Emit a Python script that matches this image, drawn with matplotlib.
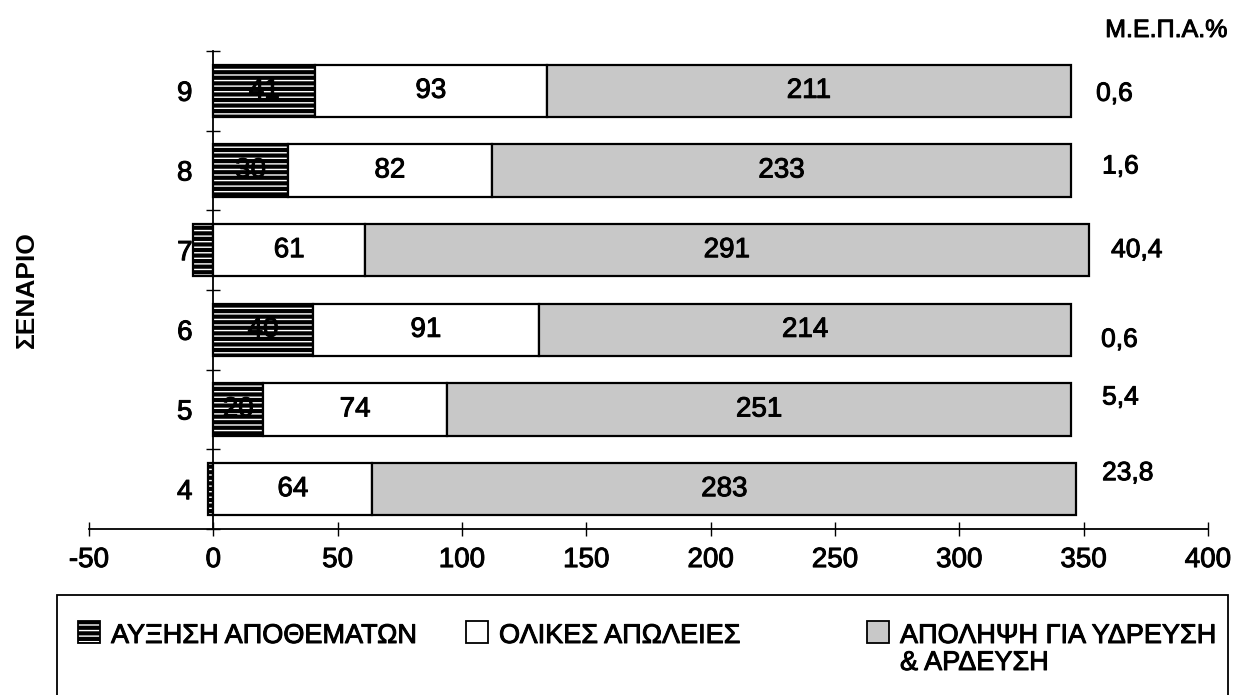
import matplotlib
matplotlib.use('Agg')
import matplotlib.pyplot as plt
import matplotlib.patheffects as pe
from matplotlib.patches import Rectangle
import numpy as np

plt.rcParams['font.family'] = ['Liberation Sans', 'DejaVu Sans']
plt.rcParams['axes.unicode_minus'] = False
plt.rcParams['hatch.linewidth'] = 1.0

# Δεδομένα ανά σενάριο (από κάτω προς τα πάνω)
scenarios = ['4', '5', '6', '7', '8', '9']
stock_change = [-2, 20, 40, -8, 30, 41]      # ΑΥΞΗΣΗ ΑΠΟΘΕΜΑΤΩΝ
total_losses = [64, 74, 91, 61, 82, 93]      # ΟΛΙΚΕΣ ΑΠΩΛΕΙΕΣ
abstraction = [283, 251, 214, 291, 233, 211]  # ΑΠΟΛΗΨΗ ΓΙΑ ΥΔΡΕΥΣΗ & ΑΡΔΕΥΣΗ
mepa = [23.8, 5.4, 0.6, 40.4, 1.6, 0.6]      # Μ.Ε.Π.Α.%

W, H = 1243, 695
fig = plt.figure(figsize=(W / 100, H / 100), dpi=100)
ax = fig.add_axes([89 / W, 1 - 529 / H, (1208 - 89) / W, (529 - 51) / H])

thick = [pe.withStroke(linewidth=0.7, foreground='black')]

y = np.arange(len(scenarios))
h = 0.66
gray = '#c8c8c8'

# πρώτο τμήμα: μαύρο με λευκές οριζόντιες γραμμές
ax.barh(y, stock_change, height=h, color='black', edgecolor='white', hatch='---', linewidth=0)
ax.barh(y, stock_change, height=h, fill=False, edgecolor='black', linewidth=1.6)

left2 = np.maximum(stock_change, 0)
ax.barh(y, total_losses, left=left2, height=h, color='white', edgecolor='black', linewidth=1.6)
left3 = left2 + np.array(total_losses)
ax.barh(y, abstraction, left=left3, height=h, color=gray, edgecolor='black', linewidth=1.6)

fs = 20
for i in range(len(scenarios)):
    if stock_change[i] > 5:
        ax.text(stock_change[i] / 2, i, str(stock_change[i]), ha='center', va='center',
                fontsize=fs, path_effects=thick)
    ax.text(left2[i] + total_losses[i] / 2, i, str(total_losses[i]), ha='center', va='center',
            fontsize=fs, path_effects=thick)
    ax.text(left3[i] + abstraction[i] / 2, i, str(abstraction[i]), ha='center', va='center',
            fontsize=fs, path_effects=thick)

# τιμές Μ.Ε.Π.Α. δεξιά (μικρές μετατοπίσεις όπως στο πρωτότυπο, σε pixels)
dx = [0, 0, -1, 9, 0, -6]
dy = [-16, -12, 10, 0, -4, 3]
for i in range(len(scenarios)):
    ax.annotate(f'{mepa[i]:.1f}'.replace('.', ','), (357.4, i),
                xytext=(dx[i] * 0.72, -dy[i] * 0.72), textcoords='offset points',
                ha='left', va='center', fontsize=19, annotation_clip=False, path_effects=thick)

ax.set_xlim(-50, 400)
ax.set_ylim(-0.5, len(scenarios) - 0.5)
ax.set_xticks(np.arange(-50, 401, 50))
ax.tick_params(axis='x', direction='inout', length=10, width=1, pad=8, labelsize=fs)

ax.spines['left'].set_position(('data', 0))
ax.spines['top'].set_visible(False)
ax.spines['right'].set_visible(False)
ax.spines['left'].set_linewidth(1.3)
ax.spines['bottom'].set_linewidth(1.3)
ax.set_yticks(np.arange(-0.5, len(scenarios), 1))
ax.set_yticklabels([])
ax.set_yticks(y, minor=True)
ax.set_yticklabels(scenarios, minor=True)
ax.tick_params(axis='y', which='major', direction='inout', length=10, width=1)
ax.tick_params(axis='y', which='minor', length=0, pad=15, labelsize=fs)
for t in ax.get_xticklabels() + ax.get_yticklabels(minor=True):
    t.set_path_effects(thick)

fig.text(27 / W, 1 - 290 / H, 'ΣΕΝΑΡΙΟ', rotation=90, ha='center', va='center',
         fontsize=19, fontweight='bold')
fig.text(1166 / W, 1 - 30 / H, 'Μ.Ε.Π.Α.%', ha='center', va='center', fontsize=18,
         path_effects=thick)

# υπόμνημα
fig.add_artist(Rectangle((57 / W, -0.05), (1228 - 57) / W, 1 - 595 / H + 0.05,
                         transform=fig.transFigure, fill=False, edgecolor='black', linewidth=1.3))
sq = 22
entries = [(78, 'black', ['ΑΥΞΗΣΗ ΑΠΟΘΕΜΑΤΩΝ']),
           (466, 'white', ['ΟΛΙΚΕΣ ΑΠΩΛΕΙΕΣ']),
           (867, gray, ['ΑΠΟΛΗΨΗ ΓΙΑ ΥΔΡΕΥΣΗ', '& ΑΡΔΕΥΣΗ'])]
for k, (x0, c, lines) in enumerate(entries):
    if k == 0:
        fig.add_artist(Rectangle((x0 / W, 1 - 643 / H), sq / W, sq / H, transform=fig.transFigure,
                                 facecolor='black', edgecolor='white', hatch='---', linewidth=0))
    fig.add_artist(Rectangle((x0 / W, 1 - 643 / H), sq / W, sq / H, transform=fig.transFigure,
                             facecolor=c if k else 'none', edgecolor='black', linewidth=1.3))
    for j, line in enumerate(lines):
        fig.text((x0 + 33) / W, 1 - (643 + 27 * j) / H, line, ha='left', va='baseline',
                 fontsize=19.5, path_effects=thick)

fig.savefig('out.png', dpi=100)
